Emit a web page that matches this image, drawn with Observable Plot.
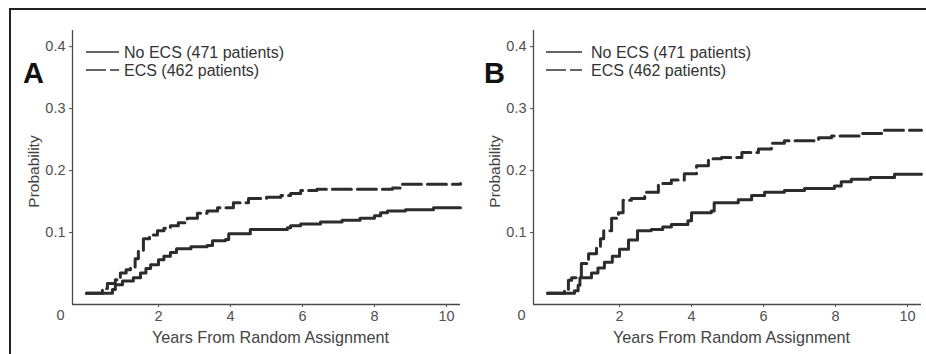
<!DOCTYPE html>
<html><head><meta charset="utf-8">
<script src="https://cdn.jsdelivr.net/npm/d3@7"></script>
<script src="https://cdn.jsdelivr.net/npm/@observablehq/plot@0.6"></script>
<style>
html,body{margin:0;padding:0;background:#fff;}
#wrap{position:relative;width:926px;height:354px;overflow:hidden;font-family:"Liberation Sans",Arial,sans-serif;background:#fff;}
#border{position:absolute;left:9px;top:8px;right:-5px;bottom:-5px;border-left:2px solid #222;border-top:2px solid #222;}
</style></head><body><div id="wrap"><div id="border"></div></div>
<script>
// ---- data ----
const panelLetters = ["A", "B"];
const legendLabels = ["No ECS (471 patients)", "ECS (462 patients)"];
const xTicks = [2, 4, 6, 8, 10];
const yTicks = [0.1, 0.2, 0.3, 0.4];
const xLabel = "Years From Random Assignment";
const yLabel = "Probability";

// Panel A
const aNoEcsT = [0, 0.72, 0.8, 1.0, 1.3, 1.5, 1.65, 1.78, 2.0, 2.15, 2.33, 2.5, 2.9, 3.35, 3.5, 3.86, 3.95, 4.55, 5.58, 5.67, 5.95, 6.5, 7.1, 7.6, 8.0, 8.17, 8.36, 8.86, 9.64, 10.39];
const aNoEcsP = [0.002, 0.008, 0.016, 0.022, 0.027, 0.035, 0.042, 0.048, 0.056, 0.062, 0.068, 0.074, 0.077, 0.079, 0.087, 0.089, 0.098, 0.105, 0.108, 0.111, 0.114, 0.117, 0.12, 0.123, 0.127, 0.132, 0.135, 0.137, 0.140, 0.140];
const aEcsT = [0, 0.44, 0.58, 0.8, 0.94, 1.1, 1.22, 1.35, 1.44, 1.58, 1.75, 1.97, 2.15, 2.33, 2.55, 2.8, 3.08, 3.35, 3.64, 4.08, 4.5, 5.0, 5.4, 5.67, 5.95, 6.4, 8.5, 8.72, 10.39];
const aEcsP = [0.002, 0.01, 0.018, 0.024, 0.035, 0.04, 0.044, 0.058, 0.071, 0.09, 0.096, 0.103, 0.107, 0.111, 0.116, 0.123, 0.131, 0.135, 0.14, 0.148, 0.155, 0.157, 0.16, 0.163, 0.168, 0.170, 0.172, 0.178, 0.179];

// Panel B
const bNoEcsT = [0, 0.75, 0.85, 0.9, 1.22, 1.4, 1.58, 1.8, 2.0, 2.25, 2.5, 2.88, 3.2, 3.44, 3.9, 4.0, 4.55, 4.63, 5.3, 5.67, 6.03, 6.58, 7.14, 7.97, 8.16, 8.44, 8.97, 9.64, 10.39];
const bNoEcsP = [0.002, 0.006, 0.015, 0.027, 0.035, 0.043, 0.052, 0.062, 0.073, 0.088, 0.103, 0.105, 0.109, 0.113, 0.119, 0.132, 0.135, 0.148, 0.153, 0.16, 0.165, 0.168, 0.171, 0.175, 0.182, 0.186, 0.189, 0.194, 0.194];
const bEcsT = [0, 0.47, 0.58, 0.67, 0.94, 1.14, 1.36, 1.47, 1.56, 1.78, 1.97, 2.1, 2.33, 2.7, 3.08, 3.44, 3.8, 4.14, 4.47, 4.83, 5.4, 5.86, 6.22, 6.58, 7.53, 7.89, 8.72, 9.28, 10.39];
const bEcsP = [0.002, 0.006, 0.023, 0.027, 0.05, 0.066, 0.076, 0.09, 0.103, 0.123, 0.132, 0.152, 0.155, 0.165, 0.179, 0.185, 0.195, 0.208, 0.219, 0.221, 0.229, 0.235, 0.244, 0.248, 0.253, 0.256, 0.26, 0.265, 0.265];

const xDomain = [-0.39, 10.39];
const yDomain = [-0.016, 0.426];

const rows = (T, P) => T.map((t, i) => ({t, p: P[i]}));

function panel(letter, noT, noP, ecT, ecP, left, leg) {
  const ink = "#2c2c2c";
  const axisInk = "#4a4a4a";
  const svg = Plot.plot({
    width: 463, height: 354,
    marginLeft: 72, marginRight: 3, marginTop: 30, marginBottom: 50,
    style: {fontFamily: '"Liberation Sans", Arial, sans-serif', background: "transparent", overflow: "visible"},
    x: {domain: xDomain},
    y: {domain: yDomain},
    marks: [
      Plot.ruleX([xDomain[0]], {stroke: axisInk, strokeWidth: 1.3}),
      Plot.ruleY([yDomain[0]], {stroke: axisInk, strokeWidth: 1.3}),
      Plot.axisX(xTicks, {tickSize: 3, tickPadding: 3, fontSize: 14.5, color: "#505050", label: null}),
      Plot.axisY(yTicks, {tickSize: 3, tickPadding: 4, fontSize: 14.5, color: "#505050", label: null, tickFormat: d3.format(".1f")}),
      Plot.text(["0"], {text: d => d, frameAnchor: "bottom-left", dx: -12, dy: 11, fontSize: 14.5, fill: "#505050", textAnchor: "middle", lineAnchor: "middle"}),
      Plot.text([xLabel], {text: d => d, frameAnchor: "bottom", dx: 4, dy: 33, fontSize: 16.2, fill: "#444", textAnchor: "middle", lineAnchor: "middle"}),
      Plot.text([yLabel], {text: d => d, frameAnchor: "left", rotate: -90, dx: -38, dy: 4, fontSize: 15.5, fill: "#444", textAnchor: "middle", lineAnchor: "middle"}),
      Plot.text([letter], {text: d => d, frameAnchor: "top-left", dx: -39, dy: 43, fontSize: 29, fontWeight: "bold", fill: "#111", textAnchor: "middle", lineAnchor: "middle"}),
      Plot.line(rows(noT, noP), {x: "t", y: "p", curve: "step-after", stroke: ink, strokeWidth: 3}),
      Plot.line(rows(ecT, ecP), {x: "t", y: "p", curve: "step-after", stroke: ink, strokeWidth: 3, strokeDasharray: "19,6"})
    ]
  });
  svg.style.position = "absolute";
  svg.style.left = left + "px";
  svg.style.top = "0px";
  // legend
  const g = d3.select(svg).append("g");
  const ys = [52, 70];
  legendLabels.forEach((lab, i) => {
    g.append("line").attr("x1", leg.x1).attr("x2", leg.x2).attr("y1", ys[i]).attr("y2", ys[i])
      .attr("stroke", "#333").attr("stroke-width", 1.5)
      .attr("stroke-dasharray", i === 1 ? "20,4" : null);
    g.append("text").attr("x", leg.tx).attr("y", ys[i]).attr("dy", "0.35em")
      .attr("text-anchor", "start")
      .style("font-size", "16px").style("text-anchor", "start")
      .attr("fill", "#333").text(lab);
  });
  document.getElementById("wrap").appendChild(svg);
}

panel(panelLetters[0], aNoEcsT, aNoEcsP, aEcsT, aEcsP, 0, {x1: 86, x2: 119, tx: 124});
panel(panelLetters[1], bNoEcsT, bNoEcsP, bEcsT, bEcsP, 461, {x1: 85, x2: 121, tx: 130});
</script></body></html>
